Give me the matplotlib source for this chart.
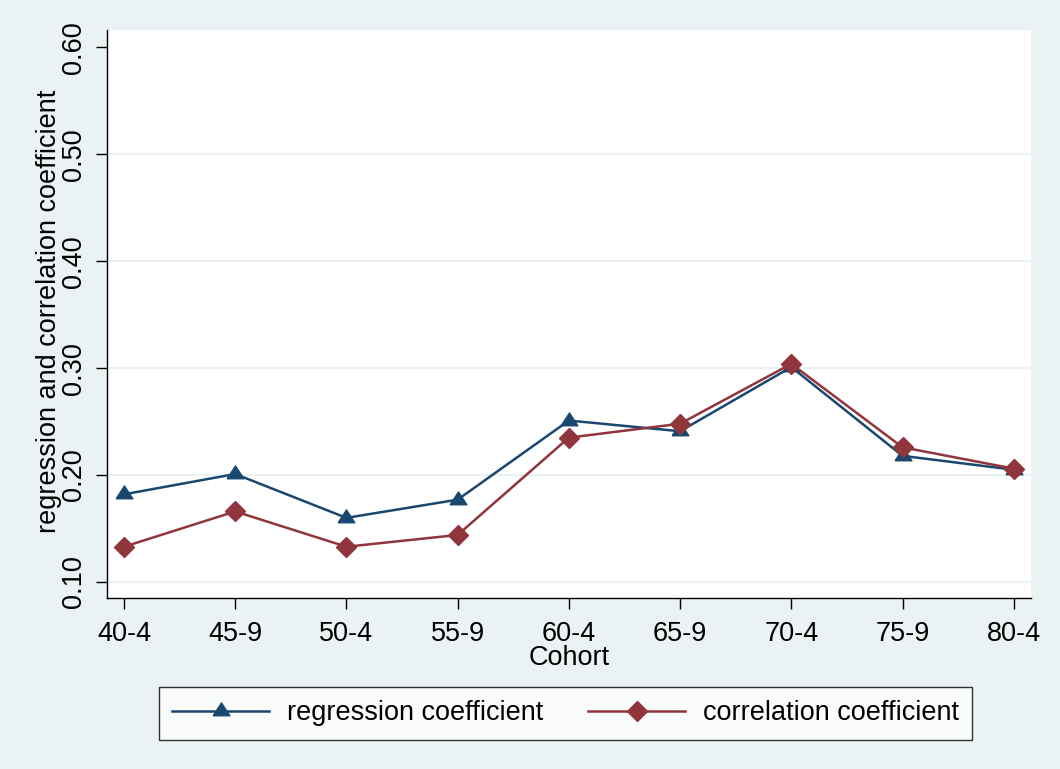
import matplotlib
matplotlib.use("Agg")
import matplotlib.pyplot as plt

plt.rcParams['font.family'] = ['Liberation Sans', 'DejaVu Sans']

cohorts = ["40-4", "45-9", "50-4", "55-9", "60-4", "65-9", "70-4", "75-9", "80-4"]
regression = [0.182, 0.201, 0.160, 0.177, 0.251, 0.241, 0.301, 0.218, 0.205]
correlation = [0.133, 0.166, 0.133, 0.144, 0.235, 0.248, 0.304, 0.226, 0.206]
yticks = [0.10, 0.20, 0.30, 0.40, 0.50, 0.60]

bg = "#EAF2F3"
navy = "#1A476F"
maroon = "#90353B"
fs = 19.5

# flatter triangle like Stata's
tri = [(-1, -0.51), (1, -0.51), (0, 1.02), (-1, -0.51)]

fig = plt.figure(figsize=(10.6, 7.69), dpi=100, facecolor=bg)
ax = fig.add_axes([0.1007, 0.222, 0.8719, 0.739])
ax.set_facecolor("white")

x = list(range(len(cohorts)))
for y in yticks[:-1]:
    ax.axhline(y, color=bg, lw=1.6, zorder=0)

ax.plot(x, regression, color=navy, lw=1.8, marker=tri, ms=12.3,
        label="regression coefficient", zorder=3)
ax.plot(x, correlation, color=maroon, lw=1.8, marker="D", ms=9.8,
        label="correlation coefficient", zorder=4)

ax.set_xlim(-0.155, 8.155)
ax.set_ylim(0.0848, 0.6162)
ax.set_xticks(x)
ax.set_xticklabels(cohorts)
ax.set_yticks(yticks)
ax.set_yticklabels(["%.2f" % v for v in yticks], rotation=90, va="center")

for side in ["top", "right"]:
    ax.spines[side].set_visible(False)
for side in ["left", "bottom"]:
    ax.spines[side].set_linewidth(1.0)
ax.tick_params(axis="both", length=8, width=1.0, labelsize=fs)
ax.tick_params(axis="x", pad=8)
ax.tick_params(axis="y", pad=6)

ax.set_xlabel("Cohort", fontsize=fs, labelpad=-1)
ax.set_ylabel("regression and correlation coefficient", fontsize=fs, va="center")
ax.yaxis.set_label_coords(-0.0625, 0.505)

leg = fig.legend(loc="center", bbox_to_anchor=(0.5335, 0.0725), ncol=2,
                 fontsize=fs, frameon=True, fancybox=False,
                 handlelength=3.58, handletextpad=0.66, columnspacing=1.66,
                 borderpad=0.5, borderaxespad=0)
leg.get_frame().set_edgecolor("black")
leg.get_frame().set_linewidth(1.0)

fig.savefig("out.png", dpi=100, facecolor=bg)
